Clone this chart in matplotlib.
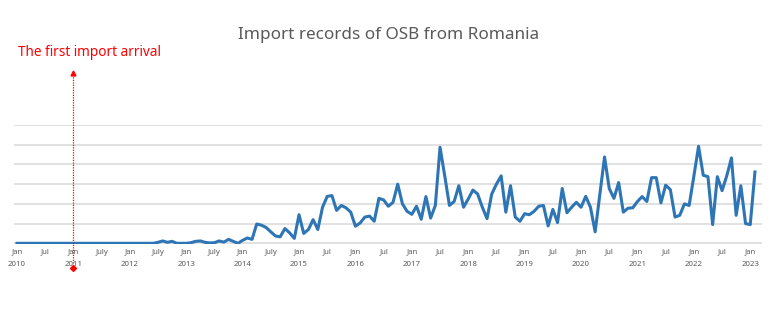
import matplotlib
matplotlib.use("Agg")
import matplotlib.pyplot as plt
import matplotlib.transforms as mtransforms
import numpy as np

plt.rcParams['font.family'] = ['Noto Sans', 'DejaVu Sans']

# monthly import volume, Jan 2010 .. Feb 2023 (relative units)
y2010 = [0] * 12
y2011 = [0] * 12
y2012 = [0, 0, 0, 0, 0, 0, 0.05, 0.12, 0.05, 0.10, 0, 0]
y2013 = [0, 0.03, 0.10, 0.12, 0.05, 0.02, 0.03, 0.12, 0.06, 0.20, 0.10, 0.0]
y2014 = [0.15, 0.27, 0.20, 0.98, 0.92, 0.80, 0.58, 0.37, 0.33, 0.75, 0.53, 0.25]
y2015 = [1.45, 0.50, 0.70, 1.20, 0.70, 1.83, 2.38, 2.42, 1.67, 1.92, 1.80, 1.58]
y2016 = [0.87, 1.03, 1.33, 1.38, 1.12, 2.28, 2.20, 1.88, 2.08, 3.00, 2.00, 1.62]
y2017 = [1.47, 1.88, 1.22, 2.37, 1.28, 1.92, 4.87, 3.42, 1.92, 2.12, 2.92, 1.83]
y2018 = [2.25, 2.70, 2.50, 1.83, 1.25, 2.50, 3.00, 3.42, 1.58, 2.92, 1.33, 1.12]
y2019 = [1.50, 1.45, 1.62, 1.88, 1.92, 0.88, 1.72, 1.05, 2.78, 1.55, 1.83, 2.08]
y2020 = [1.83, 2.38, 1.83, 0.58, 2.50, 4.38, 2.78, 2.28, 3.08, 1.58, 1.78, 1.80]
y2021 = [2.12, 2.37, 2.12, 3.33, 3.33, 2.05, 2.95, 2.72, 1.33, 1.42, 2.00, 1.92]
y2022 = [3.40, 4.92, 3.45, 3.38, 0.95, 3.38, 2.67, 3.42, 4.33, 1.42, 2.92, 1.00]
y2023 = [0.95, 3.62]

volume = (y2010 + y2011 + y2012 + y2013 + y2014 + y2015 + y2016 + y2017
          + y2018 + y2019 + y2020 + y2021 + y2022 + y2023)
months = np.arange(len(volume))

years = list(range(2010, 2024))
jul_names = ["Jul", "July", "July", "July", "July", "Jul", "Jul", "Jul",
             "Jul", "Jul", "Jul", "Jul", "Jul"]
first_arrival = 12  # Jan 2011

tick_pos = []
tick_lab = []
for i, yr in enumerate(years):
    tick_pos.append(i * 12)
    tick_lab.append("Jan\n%d" % yr)
    if i < len(jul_names):
        tick_pos.append(i * 12 + 6)
        tick_lab.append(jul_names[i])

fig = plt.figure(figsize=(7.7, 3.28), dpi=100)
ax = fig.add_axes([14 / 770, 0.2546, 748 / 770, 0.3655])

ax.plot(months, volume, color="#2e75b6", lw=2.2, solid_joinstyle="round",
        zorder=3)

ax.set_xlim(-0.64, 158.5)
ax.set_ylim(-0.06, 6.02)
ax.set_yticks(np.arange(0, 7, 1))
ax.set_yticklabels([])
ax.tick_params(axis="y", length=0)
ax.grid(axis="y", color="#d9d9d9", lw=1.1)
ax.set_axisbelow(True)
for s in ax.spines.values():
    s.set_visible(False)

ax.set_xticks(tick_pos)
ax.set_xticklabels(tick_lab, fontsize=5.6, color="#595959", linespacing=2.0)
ax.tick_params(axis="x", length=0, pad=3)

# red dotted marker for the first arrival
trans = mtransforms.blended_transform_factory(ax.transData, ax.transAxes)
ax.plot([first_arrival, first_arrival], [-0.195, 1.43], transform=trans,
        color="#ff0000", lw=0.9, ls=(0, (1, 1)), clip_on=False, zorder=4)
ax.plot([first_arrival], [-0.195], transform=trans, marker="D", ms=3,
        color="#ff0000", clip_on=False, zorder=4)
ax.plot([first_arrival], [1.43], transform=trans, marker="^", ms=3.5,
        color="#ff0000", clip_on=False, zorder=4)

fig.text(0.504, 0.893, "Import records of OSB from Romania", ha="center",
         va="center", fontsize=12.3, color="#595959")
fig.text(18 / 770, 0.841, "The first import arrival", ha="left",
         va="center", fontsize=9.8, color="#ff0000")

fig.savefig("out.png", dpi=100)
